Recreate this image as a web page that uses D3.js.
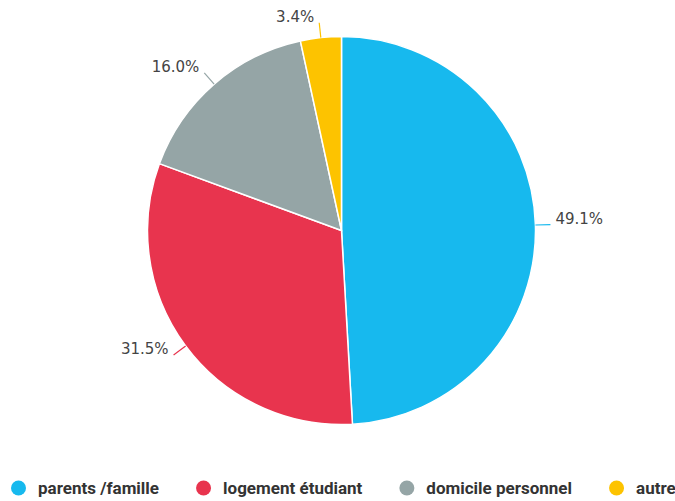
<!DOCTYPE html>
<html>
<head>
<meta charset="utf-8">
<script src="https://cdn.jsdelivr.net/npm/d3@7"></script>
<style>
  html, body { margin: 0; padding: 0; background: #fff; }
  svg { display: block; }
</style>
</head>
<body>
<div id="chart"></div>
<script>
// categories and shares (%)
var categories = ["parents /famille", "logement étudiant", "domicile personnel", "autre"];
var shares = [49.1, 31.5, 16.0, 3.4];
var colors = ["#17b9ee", "#e8344e", "#95a5a6", "#fdc300"];

var width = 675;
var height = 501;
var cx = 341.5;
var cy = 230.5;
var radius = 194;

var svg = d3.select("#chart").append("svg")
    .attr("width", width)
    .attr("height", height);

var data = categories.map(function(c, i) {
    return { name: c, value: shares[i], color: colors[i] };
});

var pie = d3.pie()
    .sort(null)
    .value(function(d) { return d.value; });

var arc = d3.arc()
    .innerRadius(0)
    .outerRadius(radius);

var arcs = pie(data);

var g = svg.append("g")
    .attr("transform", "translate(" + cx + "," + cy + ")");

g.selectAll("path.slice")
    .data(arcs)
    .enter()
    .append("path")
    .attr("class", "slice")
    .attr("d", arc)
    .attr("fill", function(d) { return d.data.color; })
    .attr("stroke", "#fff")
    .attr("stroke-width", 1.5);

// labels with short connectors
function midAngle(d) {
    return (d.startAngle + d.endAngle) / 2;
}
function pointAt(a, r) {
    return [r * Math.sin(a), -r * Math.cos(a)];
}

g.selectAll("line.conn")
    .data(arcs)
    .enter()
    .append("line")
    .attr("class", "conn")
    .attr("x1", function(d) { return pointAt(midAngle(d), radius)[0]; })
    .attr("y1", function(d) { return pointAt(midAngle(d), radius)[1]; })
    .attr("x2", function(d) { return pointAt(midAngle(d), radius + 15)[0]; })
    .attr("y2", function(d) { return pointAt(midAngle(d), radius + 15)[1]; })
    .attr("stroke", function(d) { return d.data.color; })
    .attr("stroke-width", 1.2);

g.selectAll("text.lbl")
    .data(arcs)
    .enter()
    .append("text")
    .attr("class", "lbl")
    .attr("x", function(d) {
        var p = pointAt(midAngle(d), radius + 15);
        return midAngle(d) < Math.PI ? p[0] + 5 : p[0] - 5;
    })
    .attr("y", function(d) { return pointAt(midAngle(d), radius + 15)[1] - 1; })
    .attr("text-anchor", function(d) { return midAngle(d) < Math.PI ? "start" : "end"; })
    .style("font-family", "'DejaVu Sans', Verdana, sans-serif")
    .style("font-size", "15px")
    .style("fill", "#444")
    .text(function(d) { return d.data.value.toFixed(1) + "%"; });

// legend
var legend = svg.append("g")
    .attr("transform", "translate(0,488)");

var x = 11;
data.forEach(function(d) {
    var item = legend.append("g").attr("transform", "translate(" + x + ",0)");
    item.append("circle")
        .attr("cx", 7.5)
        .attr("cy", 0)
        .attr("r", 7.5)
        .attr("fill", d.color);
    var t = item.append("text")
        .attr("x", 27)
        .attr("y", 6)
        .style("font-family", "Roboto, 'Liberation Sans', sans-serif")
        .style("font-weight", "bold")
        .style("font-size", "17px")
        .style("fill", "#333")
        .text(d.name);
    x += 27 + t.node().getComputedTextLength() + 37;
});
</script>
</body>
</html>
